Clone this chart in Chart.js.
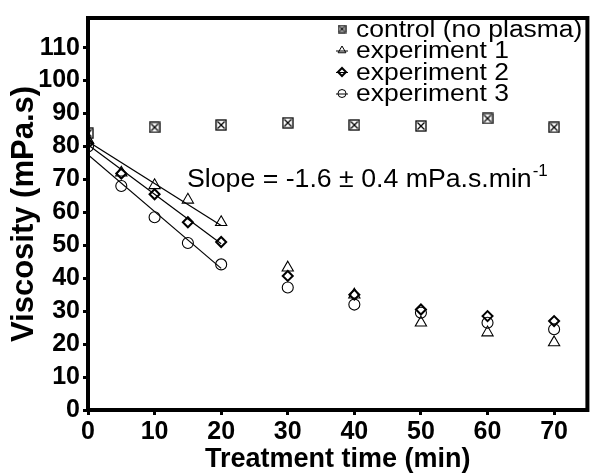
<!DOCTYPE html>
<html>
<head>
<meta charset="utf-8">
<script src="https://cdn.jsdelivr.net/npm/chart.js@4"></script>
<style>
  body { margin: 0; background: #fff; }
  #wrap { width: 595px; height: 476px; }
</style>
</head>
<body>
<div id="wrap"><canvas id="viscChart" width="595" height="476"></canvas></div>
<script>
// values
const times = [0, 5, 10, 15, 20, 30, 40, 50, 60, 70];
const controlTimes = [0, 10, 20, 30, 40, 50, 60, 70];
const controlVals = [84, 85.8, 86.5, 87.2, 86.5, 86.2, 88.5, 85.8];
const exp1Vals = [82, 72, 68.2, 63.8, 57, 43.2, 35, 26.5, 23.5, 20.5];
const exp2Vals = [81, 71.8, 65.5, 57, 51, 40.7, 35, 30.5, 28.5, 27];
const exp3Vals = [80, 68, 58.5, 50.7, 44.2, 37.2, 32, 29.5, 26.5, 24.5];
// linear fits drawn over the first 20 min
const fitTimes = [0, 20];
const fit1Vals = [81.5, 56];
const fit2Vals = [80.5, 50.5];
const fit3Vals = [77.5, 43];
const seriesNames = ["control (no plasma)", "experiment 1", "experiment 2", "experiment 3"];
const slopeText = "Slope = -1.6 \u00b1 0.4 mPa.s.min";
const slopeSup = "-1";

function boxX(size) {
    const c = document.createElement("canvas");
    c.width = size; c.height = size;
    const g = c.getContext("2d");
    g.strokeStyle = "#000";
    g.lineWidth = 1.3;
    g.strokeRect(1, 1, size - 2, size - 2);
    g.beginPath();
    g.moveTo(2.5, 2.5); g.lineTo(size - 2.5, size - 2.5);
    g.moveTo(size - 2.5, 2.5); g.lineTo(2.5, size - 2.5);
    g.stroke();
    return c;
}
const bigBox = boxX(12);
const smallBox = boxX(9);

const pts = (xs, ys) => xs.map((x, i) => ({ x: x, y: ys[i] }));

const markerStyles = [
    { pointStyle: smallBox, radius: 5, borderWidth: 1, line: false },
    { pointStyle: "triangle", radius: 4.5, borderWidth: 1, line: true },
    { pointStyle: "rectRot", radius: 4, borderWidth: 2, line: true },
    { pointStyle: "circle", radius: 4, borderWidth: 1, line: true }
];

const decor = {
    id: "decor",
    afterDraw(chart) {
        const ctx = chart.ctx;
        const a = chart.chartArea;
        ctx.save();
        ctx.strokeStyle = "#000";
        ctx.lineWidth = 4;
        ctx.strokeRect(a.left, a.top, a.right - a.left, a.bottom - a.top);

        // legend, top right inside the frame
        ctx.fillStyle = "#000";
        ctx.textBaseline = "alphabetic";
        seriesNames.forEach((name, i) => {
            const y = 29 + i * 21.5;
            const m = markerStyles[i];
            ctx.strokeStyle = "#000";
            if (m.line) {
                ctx.lineWidth = 1;
                ctx.beginPath();
                ctx.moveTo(336, y + 0.5);
                ctx.lineTo(348, y + 0.5);
                ctx.stroke();
            }
            ctx.lineWidth = m.borderWidth;
            ctx.fillStyle = "rgba(255,255,255,0)";
            Chart.helpers.drawPoint(ctx, { pointStyle: m.pointStyle, radius: m.radius, rotation: 0, borderWidth: m.borderWidth }, 342, y);
            ctx.fillStyle = "#000";
            ctx.save();
            ctx.translate(356, y + 7.5);
            ctx.scale(1.15, 1);
            ctx.font = "23px 'Liberation Sans', Arial, sans-serif";
            ctx.fillText(name, 0, 0);
            ctx.restore();
        });

        // slope annotation
        ctx.font = "26.7px 'Liberation Sans', Arial, sans-serif";
        ctx.fillText(slopeText, 187, 187);
        const w = ctx.measureText(slopeText).width;
        ctx.font = "17px 'Liberation Sans', Arial, sans-serif";
        ctx.fillText(slopeSup, 187 + w + 1, 176);
        ctx.restore();
    }
};

const ctx = document.getElementById("viscChart").getContext("2d");
new Chart(ctx, {
    type: "scatter",
    data: {
        datasets: [
            {
                label: seriesNames[0],
                data: pts(controlTimes, controlVals),
                pointStyle: bigBox,
                pointRadius: 6,
                borderColor: "#000",
                backgroundColor: "#fff"
            },
            {
                label: seriesNames[1],
                data: pts(times, exp1Vals),
                pointStyle: "triangle",
                pointRadius: 6.5,
                pointBorderWidth: 1.1,
                borderColor: "#000",
                backgroundColor: "rgba(255,255,255,0)"
            },
            {
                label: seriesNames[2],
                data: pts(times, exp2Vals),
                pointStyle: "rectRot",
                pointRadius: 5,
                pointBorderWidth: 2,
                borderColor: "#000",
                backgroundColor: "rgba(255,255,255,0)"
            },
            {
                label: seriesNames[3],
                data: pts(times, exp3Vals),
                pointStyle: "circle",
                pointRadius: 5.5,
                pointBorderWidth: 1.1,
                borderColor: "#000",
                backgroundColor: "rgba(255,255,255,0)"
            },
            { label: "fit 1", data: pts(fitTimes, fit1Vals), showLine: true, pointRadius: 0, borderColor: "#000", borderWidth: 1.2 },
            { label: "fit 2", data: pts(fitTimes, fit2Vals), showLine: true, pointRadius: 0, borderColor: "#000", borderWidth: 1.2 },
            { label: "fit 3", data: pts(fitTimes, fit3Vals), showLine: true, pointRadius: 0, borderColor: "#000", borderWidth: 1.2 }
        ]
    },
    options: {
        responsive: false,
        animation: false,
        layout: { padding: { top: 12, right: 5, left: 0, bottom: 0 } },
        scales: {
            x: {
                min: 0,
                max: 75,
                afterFit: s => { s.height = 66; },
                ticks: {
                    stepSize: 10,
                    includeBounds: false,
                    color: "#000",
                    padding: 2,
                    font: { family: "'Liberation Sans', Arial", size: 25, weight: "bold" }
                },
                grid: { drawOnChartArea: false, drawTicks: true, tickLength: 5, lineWidth: 3, color: "#000" },
                border: { display: true, width: 4, color: "#000" },
                title: {
                    display: true,
                    text: "Treatment time (min)",
                    color: "#000",
                    padding: { top: 0, bottom: 0 },
                    font: { family: "'Liberation Sans', Arial", size: 27, weight: "bold" }
                }
            },
            y: {
                min: 0,
                max: 119,
                afterFit: s => { s.width = 88; },
                ticks: {
                    stepSize: 10,
                    includeBounds: false,
                    color: "#000",
                    padding: 3,
                    font: { family: "'Liberation Sans', Arial", size: 25, weight: "bold" }
                },
                grid: { drawOnChartArea: false, drawTicks: true, tickLength: 5, lineWidth: 3, color: "#000" },
                border: { display: true, width: 4, color: "#000" },
                title: {
                    display: true,
                    text: "Viscosity (mPa.s)",
                    color: "#000",
                    padding: { top: 6, bottom: 0 },
                    font: { family: "'Liberation Sans', Arial", size: 31, weight: "bold" }
                }
            }
        },
        plugins: {
            legend: { display: false },
            tooltip: { enabled: false }
        }
    },
    plugins: [decor]
});
</script>
</body>
</html>
